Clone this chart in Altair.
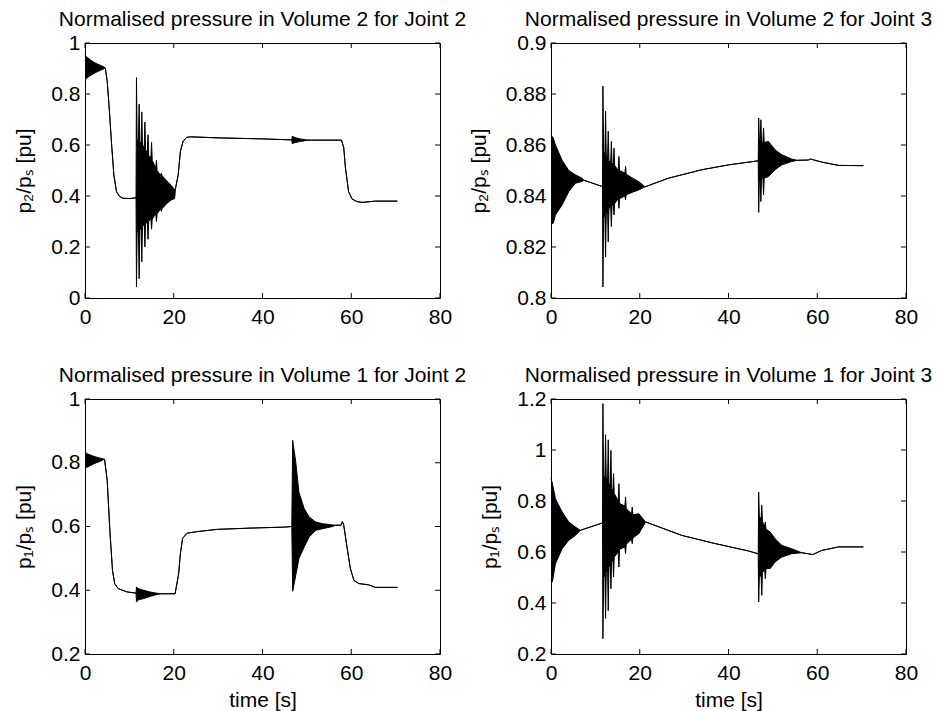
import altair as alt
import pandas as pd

FONT = "Liberation Sans"
X_TICKS = [0, 20, 40, 60, 80]

# ---- Normalised pressure in Volume 2 for Joint 2 (top-left) ----
t_v2j2 = [0, 0.3, 0.8, 1.5, 2.5, 3.5, 4.4, 4.6, 5.0, 5.4, 5.95, 6.5, 7.1, 7.8, 8.6, 10.1, 11.5,
          11.6, 11.75, 12.05, 12.2, 12.35, 12.65, 12.8, 12.95, 13.35, 13.5, 13.65, 14.05, 14.2, 14.35,
          14.85, 15.0, 15.15, 15.95, 16.1, 16.25, 17.05, 17.2, 17.35, 18.4, 19.5, 20.2,
          20.4, 21.0, 21.5, 22.1, 22.9, 23.8, 30.0, 40.0, 46.6,
          46.7, 47.5, 48.5, 50.0, 51.0, 57.8, 58.3, 58.7, 59.4, 60.2, 61.3, 62.5, 65.5, 70.4]
lo_v2j2 = [0.855, 0.860, 0.868, 0.875, 0.885, 0.893, 0.900, 0.900, 0.850, 0.760, 0.614, 0.483, 0.417, 0.398, 0.391, 0.390, 0.393,
           0.043, 0.260, 0.260, 0.076, 0.270, 0.270, 0.142, 0.280, 0.290, 0.200, 0.290, 0.300, 0.230, 0.300,
           0.310, 0.270, 0.310, 0.330, 0.300, 0.330, 0.350, 0.340, 0.350, 0.370, 0.385, 0.390,
           0.430, 0.483, 0.575, 0.614, 0.630, 0.632, 0.628, 0.624, 0.620,
           0.606, 0.610, 0.614, 0.618, 0.619, 0.619, 0.590, 0.509, 0.417, 0.388, 0.378, 0.375, 0.380, 0.380]
hi_v2j2 = [0.955, 0.945, 0.940, 0.930, 0.920, 0.912, 0.905, 0.900, 0.850, 0.760, 0.614, 0.483, 0.417, 0.398, 0.391, 0.390, 0.393,
           0.864, 0.620, 0.620, 0.760, 0.610, 0.610, 0.730, 0.600, 0.590, 0.690, 0.580, 0.570, 0.640, 0.560,
           0.550, 0.610, 0.540, 0.510, 0.540, 0.500, 0.480, 0.490, 0.480, 0.460, 0.440, 0.425,
           0.430, 0.483, 0.575, 0.614, 0.630, 0.632, 0.628, 0.624, 0.620,
           0.634, 0.628, 0.624, 0.620, 0.619, 0.619, 0.590, 0.509, 0.417, 0.388, 0.378, 0.375, 0.380, 0.380]
y_ticks_v2j2 = [0, 0.2, 0.4, 0.6, 0.8, 1]

# ---- Normalised pressure in Volume 2 for Joint 3 (top-right) ----
t_v2j3 = [0, 0.5, 1.0, 2.5, 4.0, 5.5, 7.0, 7.4, 11.6,
          11.7, 11.85, 12.15, 12.3, 12.45, 12.75, 12.9, 13.05, 13.45, 13.6, 13.75, 14.05, 14.2, 14.35,
          15.15, 15.3, 15.45, 16.65, 16.8, 16.95, 18.4, 19.9, 21.2,
          26.5, 34.0, 40.0, 46.7,
          46.8, 46.95, 47.15, 47.3, 47.45, 47.75, 47.9, 48.05, 49.0, 50.5, 52.0, 54.2, 55.5, 58.0, 58.5,
          61.0, 64.8, 70.4]
lo_v2j3 = [0.829, 0.8293, 0.8326, 0.8365, 0.8417, 0.8450, 0.8457, 0.8462, 0.8437,
           0.8043, 0.832, 0.832, 0.8161, 0.833, 0.834, 0.822, 0.835, 0.836, 0.828, 0.836, 0.837, 0.8326, 0.837,
           0.839, 0.8352, 0.839, 0.840, 0.8385, 0.8405, 0.8415, 0.8425, 0.8436,
           0.8470, 0.8503, 0.8522, 0.8538,
           0.8336, 0.846, 0.846, 0.8378, 0.847, 0.847, 0.8404, 0.847, 0.8476, 0.8503, 0.8522, 0.8535, 0.8540, 0.8541, 0.8545,
           0.8533, 0.8520, 0.8519]
hi_v2j3 = [0.864, 0.8627, 0.860, 0.8540, 0.8500, 0.8483, 0.8470, 0.8462, 0.8437,
           0.8831, 0.857, 0.857, 0.8732, 0.856, 0.855, 0.8654, 0.854, 0.853, 0.8614, 0.853, 0.852, 0.8588, 0.852,
           0.850, 0.8555, 0.850, 0.849, 0.8516, 0.8485, 0.847, 0.8455, 0.8436,
           0.8470, 0.8503, 0.8522, 0.8538,
           0.8706, 0.862, 0.862, 0.8699, 0.861, 0.861, 0.8667, 0.861, 0.8614, 0.8581, 0.8562, 0.8545, 0.8540, 0.8541, 0.8545,
           0.8533, 0.8520, 0.8519]
y_ticks_v2j3 = [0.8, 0.82, 0.84, 0.86, 0.88, 0.9]

# ---- Normalised pressure in Volume 1 for Joint 2 (bottom-left) ----
t_v1j2 = [0, 0.5, 2.0, 3.5, 4.4, 5.0, 5.6, 6.2, 6.7, 7.5, 9.4, 11.5,
          11.6, 12.0, 13.0, 14.5, 16.0, 17.0, 20.3, 21.1, 21.5, 22.0, 23.0, 25.3, 29.8, 37.3, 44.8, 46.6,
          46.8, 47.5, 48.2, 49.4, 50.5, 52.0, 53.5, 55.8, 56.5, 57.7, 58.0, 58.3, 59.1, 59.8, 60.6, 61.7,
          63.9, 64.7, 65.4, 70.4]
lo_v1j2 = [0.787, 0.786, 0.797, 0.805, 0.811, 0.745, 0.588, 0.462, 0.420, 0.405, 0.395, 0.391,
           0.363, 0.370, 0.373, 0.380, 0.386, 0.389, 0.389, 0.451, 0.516, 0.563, 0.579, 0.584, 0.591, 0.595, 0.598, 0.600,
           0.397, 0.447, 0.499, 0.536, 0.567, 0.588, 0.593, 0.600, 0.604, 0.604, 0.615, 0.605, 0.530, 0.468, 0.431, 0.421,
           0.417, 0.413, 0.409, 0.409]
hi_v1j2 = [0.834, 0.828, 0.820, 0.814, 0.811, 0.745, 0.588, 0.462, 0.420, 0.405, 0.395, 0.391,
           0.410, 0.405, 0.401, 0.395, 0.391, 0.389, 0.389, 0.451, 0.516, 0.563, 0.579, 0.584, 0.591, 0.595, 0.598, 0.600,
           0.870, 0.802, 0.708, 0.656, 0.630, 0.614, 0.609, 0.605, 0.604, 0.604, 0.615, 0.605, 0.530, 0.468, 0.431, 0.421,
           0.417, 0.413, 0.409, 0.409]
y_ticks_v1j2 = [0.2, 0.4, 0.6, 0.8, 1]

# ---- Normalised pressure in Volume 1 for Joint 3 (bottom-right) ----
t_v1j3 = [0, 0.3, 1.0, 2.5, 4.0, 5.5, 6.6, 11.6,
          11.7, 11.85, 12.15, 12.3, 12.45, 12.75, 12.9, 13.05, 13.35, 13.5, 13.65, 13.95, 14.1, 14.25,
          15.15, 15.3, 15.45, 16.65, 16.8, 16.95, 18.15, 18.3, 18.45, 19.8, 21.3,
          29.5, 37.0, 44.5, 46.7,
          46.8, 46.95, 47.35, 47.5, 47.65, 48.15, 48.3, 48.45, 49.4, 50.5, 52.0, 54.2, 56.5, 58.0, 59.0,
          61.0, 64.8, 70.4]
lo_v1j3 = [0.489, 0.482, 0.554, 0.613, 0.646, 0.665, 0.685, 0.714,
           0.260, 0.500, 0.510, 0.340, 0.520, 0.530, 0.370, 0.540, 0.550, 0.456, 0.560, 0.570, 0.502, 0.580,
           0.600, 0.541, 0.610, 0.620, 0.594, 0.630, 0.650, 0.633, 0.655, 0.672, 0.718,
           0.665, 0.633, 0.604, 0.593,
           0.404, 0.500, 0.510, 0.430, 0.520, 0.530, 0.495, 0.535, 0.535, 0.561, 0.580, 0.593, 0.597, 0.593, 0.590,
           0.606, 0.620, 0.620]
hi_v1j3 = [0.888, 0.870, 0.809, 0.757, 0.718, 0.698, 0.685, 0.714,
           1.182, 0.900, 0.890, 1.060, 0.890, 0.880, 1.040, 0.870, 0.860, 0.999, 0.850, 0.840, 0.907, 0.830,
           0.800, 0.868, 0.790, 0.780, 0.816, 0.770, 0.750, 0.776, 0.745, 0.750, 0.718,
           0.665, 0.633, 0.604, 0.593,
           0.835, 0.740, 0.730, 0.783, 0.720, 0.700, 0.718, 0.690, 0.678, 0.652, 0.626, 0.613, 0.597, 0.593, 0.590,
           0.606, 0.620, 0.620]
y_ticks_v1j3 = [0.2, 0.4, 0.6, 0.8, 1, 1.2]

W, H = 355, 255
TICK = 5


def panel(t, lo, hi, yticks, title, ytitle, xtitle):
    df = pd.DataFrame({"t": t, "lo": lo, "hi": hi})
    xs = alt.Scale(domain=[0, 80], nice=False, zero=False)
    ys = alt.Scale(domain=[yticks[0], yticks[-1]], nice=False, zero=False)
    xaxis = alt.Axis(values=X_TICKS, format="d", title=xtitle, labelFlush=False)
    yaxis = alt.Axis(values=yticks, format="~g", title=ytitle)
    X = alt.X("t:Q", scale=xs, axis=xaxis)
    base = alt.Chart(df)
    area = base.mark_area(color="black", opacity=1).encode(
        x=X, y=alt.Y("hi:Q", scale=ys, axis=yaxis), y2="lo:Q")
    line_hi = base.mark_line(color="black", strokeWidth=1).encode(
        x=X, y=alt.Y("hi:Q", scale=ys, axis=yaxis))
    line_lo = base.mark_line(color="black", strokeWidth=1).encode(
        x=X, y=alt.Y("lo:Q", scale=ys, axis=yaxis))
    xt = alt.Chart(pd.DataFrame({"t": X_TICKS}))
    yt = alt.Chart(pd.DataFrame({"hi": yticks}))
    tb = xt.mark_rule(color="black", strokeWidth=1).encode(
        x=X, y=alt.value(H), y2=alt.value(H - TICK))
    tt = xt.mark_rule(color="black", strokeWidth=1).encode(
        x=X, y=alt.value(0), y2=alt.value(TICK))
    tl = yt.mark_rule(color="black", strokeWidth=1).encode(
        y=alt.Y("hi:Q", scale=ys, axis=yaxis), x=alt.value(0), x2=alt.value(TICK))
    tr = yt.mark_rule(color="black", strokeWidth=1).encode(
        y=alt.Y("hi:Q", scale=ys, axis=yaxis), x=alt.value(W), x2=alt.value(W - TICK))
    return alt.layer(area, line_hi, line_lo, tb, tt, tl, tr).properties(
        width=W, height=H,
        title=alt.TitleParams(title, font=FONT, fontSize=21, fontWeight="normal", color="black",
                              baseline="alphabetic", offset=-15, anchor="middle"),
    )


pA = panel(t_v2j2, lo_v2j2, hi_v2j2, y_ticks_v2j2, "Normalised pressure in Volume 2 for Joint 2", "p₂/pₛ [pu]", None)
pB = panel(t_v2j3, lo_v2j3, hi_v2j3, y_ticks_v2j3, "Normalised pressure in Volume 2 for Joint 3", "p₂/pₛ [pu]", None)
pC = panel(t_v1j2, lo_v1j2, hi_v1j2, y_ticks_v1j2, "Normalised pressure in Volume 1 for Joint 2", "p₁/pₛ [pu]", "time [s]")
pD = panel(t_v1j3, lo_v1j3, hi_v1j3, y_ticks_v1j3, "Normalised pressure in Volume 1 for Joint 3", "p₁/pₛ [pu]", "time [s]")

chart = alt.concat(pA, pB, pC, pD, columns=2, spacing={"row": 101, "column": 111}, bounds="flush").properties(
    padding={"left": 13, "top": 8, "right": 5, "bottom": 5},
    background="white",
).configure_view(stroke="black", strokeWidth=1).configure_axis(
    labelFont=FONT, labelFontSize=21, labelColor="black",
    titleFont=FONT, titleFontSize=21, titleFontWeight="normal", titleColor="black",
    tickSize=0, domain=False, grid=False,
).configure_axisX(labelPadding=8, titlePadding=6).configure_axisY(labelPadding=5, titlePadding=16)

chart.save("out.html", embed_options={"renderer": "svg", "actions": False})
